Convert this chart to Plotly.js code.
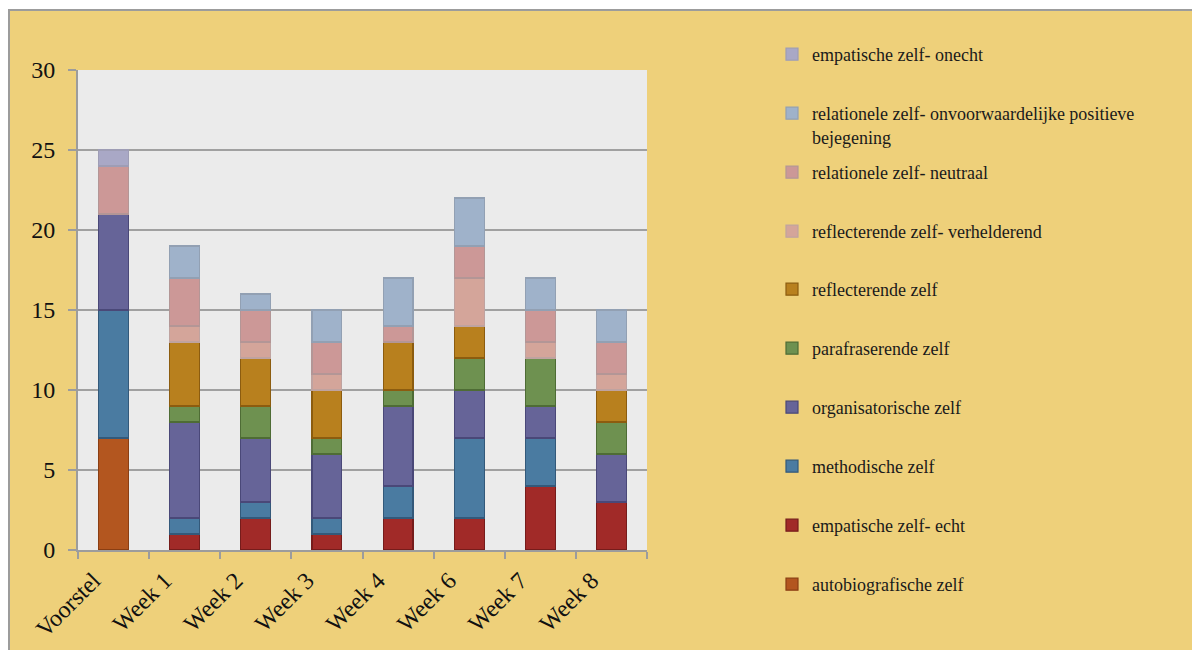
<!DOCTYPE html>
<html>
<head>
<meta charset="utf-8">
<script src="https://cdn.plot.ly/plotly-3.0.1.min.js"></script>
<style>
  html, body { margin: 0; padding: 0; background: #ffffff; }
  #chart {
    position: absolute; left: 8px; top: 9px;
    width: 1184px; height: 641px;
    border-top: 2px solid #9c9c9c; border-left: 2px solid #9c9c9c;
    background: #EED07A;
  }
</style>
</head>
<body>
<div id="chart"></div>
<script>
// Categories along the x axis
const categories = ['Voorstel', 'Week 1', 'Week 2', 'Week 3', 'Week 4', 'Week 6', 'Week 7', 'Week 8'];

// Counts per series, stacked from the bottom up
const autobiografischeZelf      = [7, 0, 0, 0, 0, 0, 0, 0];
const empatischeZelfEcht        = [0, 1, 2, 1, 2, 2, 4, 3];
const methodischeZelf           = [8, 1, 1, 1, 2, 5, 3, 0];
const organisatorischeZelf      = [6, 6, 4, 4, 5, 3, 2, 3];
const parafraserendeZelf        = [0, 1, 2, 1, 1, 2, 3, 2];
const reflecterendeZelf         = [0, 4, 3, 3, 3, 2, 0, 2];
const reflecterendeVerhelderend = [0, 1, 1, 1, 0, 3, 1, 1];
const relationeleNeutraal       = [3, 3, 2, 2, 1, 2, 2, 2];
const relationeleOnvoorwaardelijk = [0, 2, 1, 2, 3, 3, 2, 2];
const empatischeZelfOnecht      = [1, 0, 0, 0, 0, 0, 0, 0];

const seriesNames = [
  'autobiografische zelf',
  'empatische zelf- echt',
  'methodische zelf',
  'organisatorische zelf',
  'parafraserende zelf',
  'reflecterende zelf',
  'reflecterende zelf- verhelderend',
  'relationele zelf- neutraal',
  'relationele zelf- onvoorwaardelijke positieve<br>bejegening',
  'empatische zelf- onecht'
];
const seriesValues = [
  autobiografischeZelf, empatischeZelfEcht, methodischeZelf, organisatorischeZelf,
  parafraserendeZelf, reflecterendeZelf, reflecterendeVerhelderend,
  relationeleNeutraal, relationeleOnvoorwaardelijk, empatischeZelfOnecht
];
const fillColors = ['#B3561F', '#A12A28', '#4A7BA1', '#666498', '#6E9150',
                    '#B8801E', '#D4A59A', '#CC9897', '#9FB2CA', '#A9A8C6'];
const lineColors = ['#8A3E13', '#761C1B', '#33597A', '#4A4878', '#4E6C35',
                    '#8C5C0F', '#BFA3A0', '#B39696', '#92A0B3', '#9E9DB5'];

// Layout geometry of the plot area (pixels inside the chart div)
const W = 1184, H = 641;
const M = { l: 68, r: 547, t: 59, b: 102 };
const plotH = H - M.t - M.b;
const plotW = W - M.l - M.r;

// Vertical pixel centre of each legend entry, top entry first
const legendCentres = [44, 103, 162, 221, 279, 338, 397, 456, 515, 574];
const legendTextLeft = 802;

const serif = '"Liberation Serif", "Times New Roman", serif';
const legendFont = { family: serif, size: 18, color: '#1a1a1a' };

const traces = [];
const layoutLegends = {};
const n = seriesNames.length;
for (let i = 0; i < n; i++) {
  const slot = n - 1 - i;              // top of the stack is listed first
  const key = slot === 0 ? 'legend' : 'legend' + (slot + 1);
  traces.push({
    type: 'bar',
    name: seriesNames[i],
    x: categories,
    y: seriesValues[i].map(v => (v === 0 ? null : v)),
    marker: { color: fillColors[i], line: { color: lineColors[i], width: 1.2 } },
    legend: key,
    hoverinfo: 'skip'
  });
  layoutLegends[key] = {
    x: (legendTextLeft - 40 - M.l) / plotW,
    xanchor: 'left',
    y: (H - M.b - (legendCentres[slot] - 19)) / plotH,
    yanchor: 'top',
    valign: 'top',
    bgcolor: 'rgba(0,0,0,0)',
    borderwidth: 0,
    font: legendFont
  };
}

const tickFont = { family: serif, size: 24, color: '#111111' };

const layout = Object.assign({
  width: W,
  height: H,
  margin: M,
  font: { family: serif, color: '#1a1a1a' },
  paper_bgcolor: '#EED07A',
  plot_bgcolor: '#EBEBEB',
  barmode: 'stack',
  bargap: 0.58,
  showlegend: true,
  xaxis: {
    type: 'category',
    showline: true, linecolor: '#9c9c9c', linewidth: 2,
    ticks: 'outside', tickson: 'boundaries', ticklen: 7, tickwidth: 2, tickcolor: '#9c9c9c',
    tickangle: -45,
    ticklabelshift: -20,
    ticklabelstandoff: 5,
    tickfont: tickFont,
    showgrid: false
  },
  yaxis: {
    range: [0, 30], dtick: 5,
    showline: true, linecolor: '#9c9c9c', linewidth: 2,
    ticks: 'outside', ticklen: 8, tickwidth: 2, tickcolor: '#9c9c9c',
    ticklabelstandoff: 8,
    tickfont: tickFont,
    showgrid: true, gridcolor: '#A0A0A0', gridwidth: 2,
    zeroline: false
  }
}, layoutLegends);

Plotly.newPlot('chart', traces, layout, { displayModeBar: false, staticPlot: true });
</script>
</body>
</html>
